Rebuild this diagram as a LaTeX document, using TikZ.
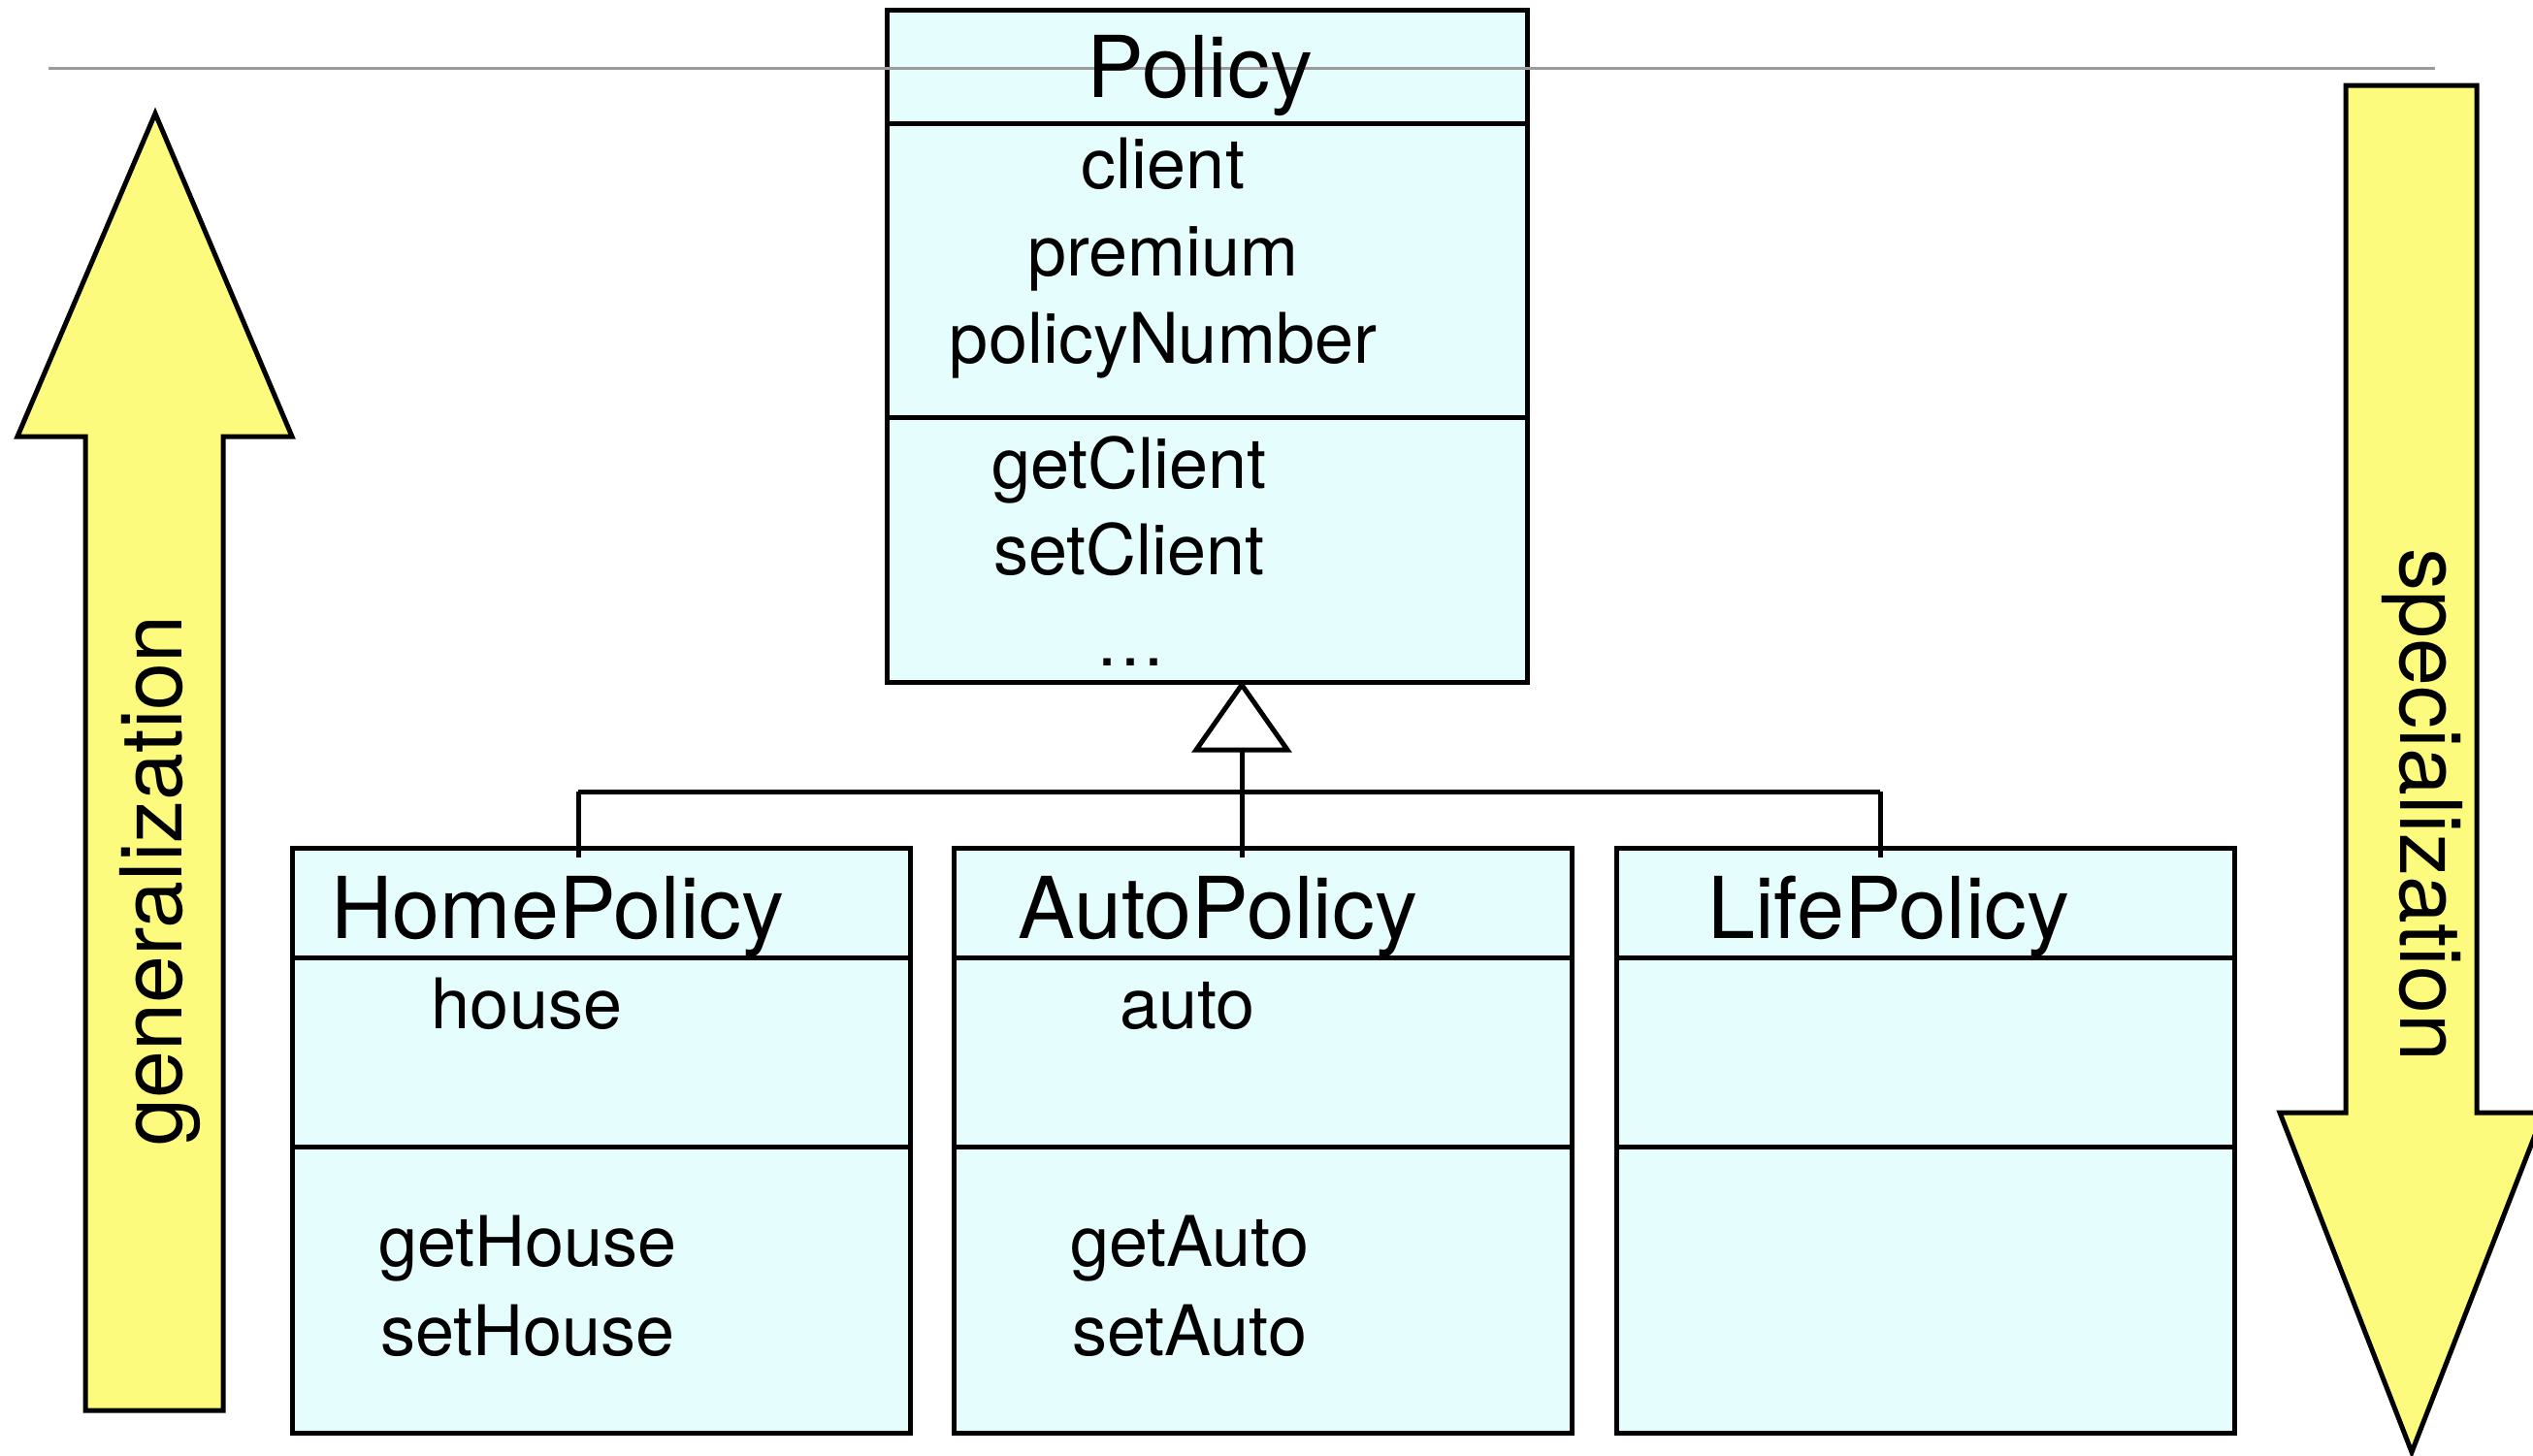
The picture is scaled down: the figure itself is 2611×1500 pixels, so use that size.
\documentclass[tikz,border=0pt]{standalone}
\usepackage{fontspec}
\setmainfont{TeX Gyre Heros}
\definecolor{classfill}{RGB}{230,253,254}
\definecolor{arrowfill}{RGB}{253,251,125}
\definecolor{rulegray}{RGB}{155,155,155}
\begin{document}
\begin{tikzpicture}[x=0.5pt,y=-0.5pt,
  classbox/.style={draw, line width=2.5pt, fill=classfill, inner sep=0pt, outer sep=0pt},
  divider/.style={line width=2.5pt},
  conn/.style={line width=2.5pt},
  bigarrow/.style={draw, line width=2.5pt, fill=arrowfill, line join=miter},
  title/.style={font=\fontsize{44}{44}\selectfont, anchor=base, inner sep=0pt},
  member/.style={font=\fontsize{36}{36}\selectfont, anchor=base, inner sep=0pt},
  arrowlabel/.style={font=\fontsize{44}{44}\selectfont, inner sep=0pt}]
\useasboundingbox (0,0) rectangle (2611,1500);
\clip (0,0) rectangle (2611,1500);

% generalization / specialization arrows
\draw[bigarrow] (160,117) -- (301,450) -- (230,450) -- (230,1454) -- (88,1454)
  -- (88,450) -- (18,450) -- cycle;
\node[arrowlabel, rotate=90] (genlabel) at (165,908) {generalization};
\draw[bigarrow] (2486,1497) -- (2350,1147) -- (2418,1147) -- (2418,88) -- (2553,88)
  -- (2553,1147) -- (2622,1147) -- cycle;
\node[arrowlabel, rotate=-90] (speclabel) at (2497,830) {specialization};

% superclass
\node[classbox, minimum width=330pt, minimum height=346.5pt] (policy) at (1244,356.5) {};
\draw[divider] (policy.west |- 0,127) -- (policy.east |- 0,127);
\draw[divider] (policy.west |- 0,430) -- (policy.east |- 0,430);

% header rule, running across the superclass box
\draw[rulegray, line width=1.5pt] (50,70) -- (2510,70);

\node[title] (policyname) at (1237,100) {Policy};
\node[member] (pa1) at (1199,194) {client};
\node[member] (pa2) at (1199,284) {premium};
\node[member] (pa3) at (1199,374) {policyNumber};
\node[member] (pm1) at (1164,503) {getClient};
\node[member] (pm2) at (1164,592) {setClient};
\node[member] (pm3) at (1165,686) {\ldots};

% subclasses
\node[classbox, minimum width=318.5pt, minimum height=301.5pt] (home) at (619.5,1175.5) {};
\node[classbox, minimum width=318.5pt, minimum height=301.5pt] (auto) at (1302,1175.5) {};
\node[classbox, minimum width=318.5pt, minimum height=301.5pt] (life) at (1985,1175.5) {};
\foreach \c in {home,auto,life}{
  \draw[divider] (\c.west |- 0,987) -- (\c.east |- 0,987);
  \draw[divider] (\c.west |- 0,1182) -- (\c.east |- 0,1182);
}
\node[title, anchor=base west] (homename) at (341,967) {HomePolicy};
\node[member] (ha1) at (543,1060) {house};
\node[member] (hm1) at (544,1305) {getHouse};
\node[member] (hm2) at (544,1397) {setHouse};
\node[title, anchor=base west] (autoname) at (1049,967) {AutoPolicy};
\node[member] (aa1) at (1224,1060) {auto};
\node[member] (am1) at (1226,1305) {getAuto};
\node[member] (am2) at (1226,1397) {setAuto};
\node[title, anchor=base west] (lifename) at (1760,967) {LifePolicy};

% generalization connector with hollow triangle
\coordinate (apex) at (1280,706);
\coordinate (tribase) at (1280,773);
\coordinate (bushome) at (596,816);
\coordinate (buslife) at (1938,816);
\draw[conn] (bushome) -- (buslife);
\draw[conn] (tribase) -- (tribase |- auto.north) -- ++(0,10);
\draw[conn] (bushome) -- (bushome |- home.north) -- ++(0,10);
\draw[conn] (buslife) -- (buslife |- life.north) -- ++(0,10);
\draw[conn, fill=white, line join=miter] (apex) -- ([xshift=23.5pt]tribase) -- ([xshift=-23.5pt]tribase) -- cycle;
\end{tikzpicture}
\end{document}
